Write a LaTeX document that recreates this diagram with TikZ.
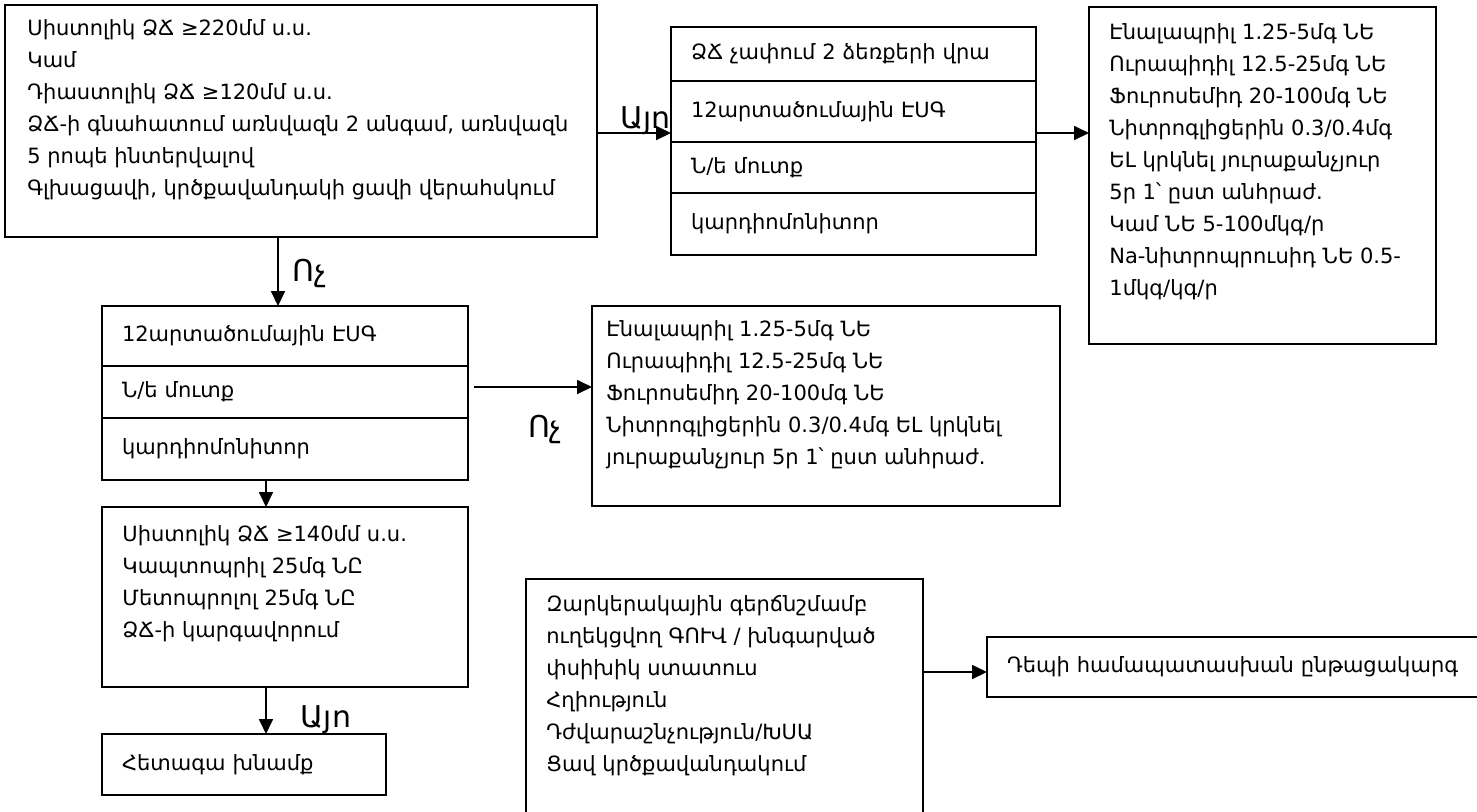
\documentclass[tikz,border=0pt]{standalone}
\usepackage{fontspec}
\setmainfont{DejaVu Sans}
\usetikzlibrary{positioning, arrows.meta, calc}
\newcommand{\boxfont}{\fontsize{10.5}{16}\selectfont}
\newcommand{\lblfont}{\fontsize{15}{18}\selectfont}

\begin{document}
\begin{tikzpicture}[
    x=0.5pt, y=-0.5pt,
    box/.style={rectangle, draw, line width=0.9pt, anchor=north west, inner sep=0pt, outer sep=0pt},
    cell/.style={rectangle, draw, line width=0.9pt, align=left, inner xsep=10pt, inner ysep=0pt, outer sep=0pt, font=\boxfont},
    txt/.style={align=left, anchor=north west, inner sep=0pt, font=\boxfont},
    lbl/.style={inner sep=0pt, font=\lblfont},
    arrow/.style={-{Triangle[length=7.5pt, width=7pt]}, line width=0.9pt}
]
\useasboundingbox (0,0) rectangle (1477,811);

% Blood pressure check
\node[box, minimum width=296pt, minimum height=116pt] (bp_check) at (5,5) {};
\node[txt] (bp_check_txt) at ([xshift=11pt, yshift=-7pt]bp_check.north west) {Սիստոլիկ ՁՃ ≥220մմ ս.ս.\\Կամ\\Դիաստոլիկ ՁՃ ≥120մմ ս.ս.\\ՁՃ-ի գնահատում առնվազն 2 անգամ, առնվազն\\5 րոպե ինտերվալով\\Գլխացավի, կրծքավանդակի ցավի վերահսկում};

% Yes branch
\node[cell, text width=162.5pt, minimum height=27pt, anchor=north west] (yes_bp) at (671,27) {ՁՃ չափում 2 ձեռքերի վրա};
\node[cell, text width=162.5pt, minimum height=30.5pt, below=0pt of yes_bp] (yes_ecg) {12արտածումային ԷՍԳ};
\node[cell, text width=162.5pt, minimum height=25.5pt, below=0pt of yes_ecg] (yes_iv) {Ն/ե մուտք};
\node[cell, text width=162.5pt, minimum height=31pt, below=0pt of yes_iv] (yes_monitor) {կարդիոմոնիտոր};

\node[box, minimum width=173.5pt, minimum height=168.5pt] (drugs_yes) at (1089,7) {};
\node[txt] (drugs_yes_txt) at ([xshift=10pt, yshift=-8pt]drugs_yes.north west) {Էնալապրիլ 1.25-5մգ ՆԵ\\Ուրապիդիլ 12.5-25մգ ՆԵ\\Ֆուրոսեմիդ 20-100մգ ՆԵ\\Նիտրոգլիցերին 0.3/0.4մգ\\ԵԼ կրկնել յուրաքանչյուր\\5ր 1՝ ըստ անհրաժ.\\Կամ ՆԵ 5-100մկգ/ր\\Na-նիտրոպրուսիդ ՆԵ 0.5-\\1մկգ/կգ/ր};

% No branch
\node[cell, text width=163pt, minimum height=30pt, anchor=north west] (no_ecg) at (102,306) {12արտածումային ԷՍԳ};
\node[cell, text width=163pt, minimum height=26pt, below=0pt of no_ecg] (no_iv) {Ն/ե մուտք};
\node[cell, text width=163pt, minimum height=31pt, below=0pt of no_iv] (no_monitor) {կարդիոմոնիտոր};

\node[box, minimum width=234pt, minimum height=100pt] (drugs_no) at (592,306) {};
\node[txt] (drugs_no_txt) at ([xshift=7pt, yshift=-7pt]drugs_no.north west) {Էնալապրիլ 1.25-5մգ ՆԵ\\Ուրապիդիլ 12.5-25մգ ՆԵ\\Ֆուրոսեմիդ 20-100մգ ՆԵ\\Նիտրոգլիցերին 0.3/0.4մգ ԵԼ կրկնել\\յուրաքանչյուր 5ր 1՝ ըստ անհրաժ.};

\node[box, minimum width=183pt, minimum height=90pt] (oral_meds) at (102,507) {};
\node[txt] (oral_meds_txt) at ([xshift=10pt, yshift=-9pt]oral_meds.north west) {Սիստոլիկ ՁՃ ≥140մմ ս.ս.\\Կապտոպրիլ 25մգ ՆԸ\\Մետոպրոլոլ 25մգ ՆԸ\\ՁՃ-ի կարգավորում};

\node[cell, text width=122pt, minimum height=30.5pt, anchor=north west] (follow_up) at (102,734) {Հետագա խնամք};

% Other conditions
\node[box, minimum width=198.5pt, minimum height=125pt] (red_flags) at (526,579) {};
\node[txt] (red_flags_txt) at ([xshift=10pt, yshift=-8pt]red_flags.north west) {Զարկերակային գերճնշմամբ\\ուղեկցվող ԳՈՒՎ / խնգարված\\փսիխիկ ստատուս\\Հղիություն\\Դժվարաշնչություն/ԽՍԱ\\Ցավ կրծքավանդակում};
\node[cell, text width=240pt, minimum height=30pt, anchor=north west] (other_path) at (987,637) {Դեպի համապատասխան ընթացակարգ};

% Arrows
\draw[arrow] ([yshift=-6pt]bp_check.east) -- ([yshift=-6pt]bp_check.east -| yes_ecg.west)
    node[lbl, pos=0.65, anchor=base, yshift=2.5pt] (yes_lbl) {Այո};
\draw[arrow] ([yshift=-6pt]bp_check.east -| yes_ecg.east) -- ([yshift=-6pt]bp_check.east -| drugs_yes.west);
\draw[arrow] ([xshift=-3.5pt]no_ecg.north |- bp_check.south) -- ([xshift=-3.5pt]no_ecg.north)
    node[lbl, pos=0.65, anchor=base west, xshift=7pt] (no_lbl) {Ոչ};
\draw[arrow] ([xshift=3pt, yshift=2.5pt]no_iv.east) -- ([yshift=2.5pt]no_iv.east -| drugs_no.west)
    node[lbl, pos=0.45, anchor=base west, yshift=-25pt] (no_lbl2) {Ոչ};
\draw[arrow] ([xshift=-9.5pt]no_monitor.south) -- ([xshift=-9.5pt]no_monitor.south |- oral_meds.north);
\draw[arrow] ([xshift=-9.5pt]oral_meds.south) -- ([xshift=-9.5pt]oral_meds.south |- follow_up.north)
    node[lbl, pos=0.87, anchor=base west, xshift=17pt] (yes_lbl2) {Այո};
\draw[arrow] ([yshift=-2.5pt]other_path.west -| red_flags.east) -- ([yshift=-2.5pt]other_path.west);

\end{tikzpicture}
\end{document}
